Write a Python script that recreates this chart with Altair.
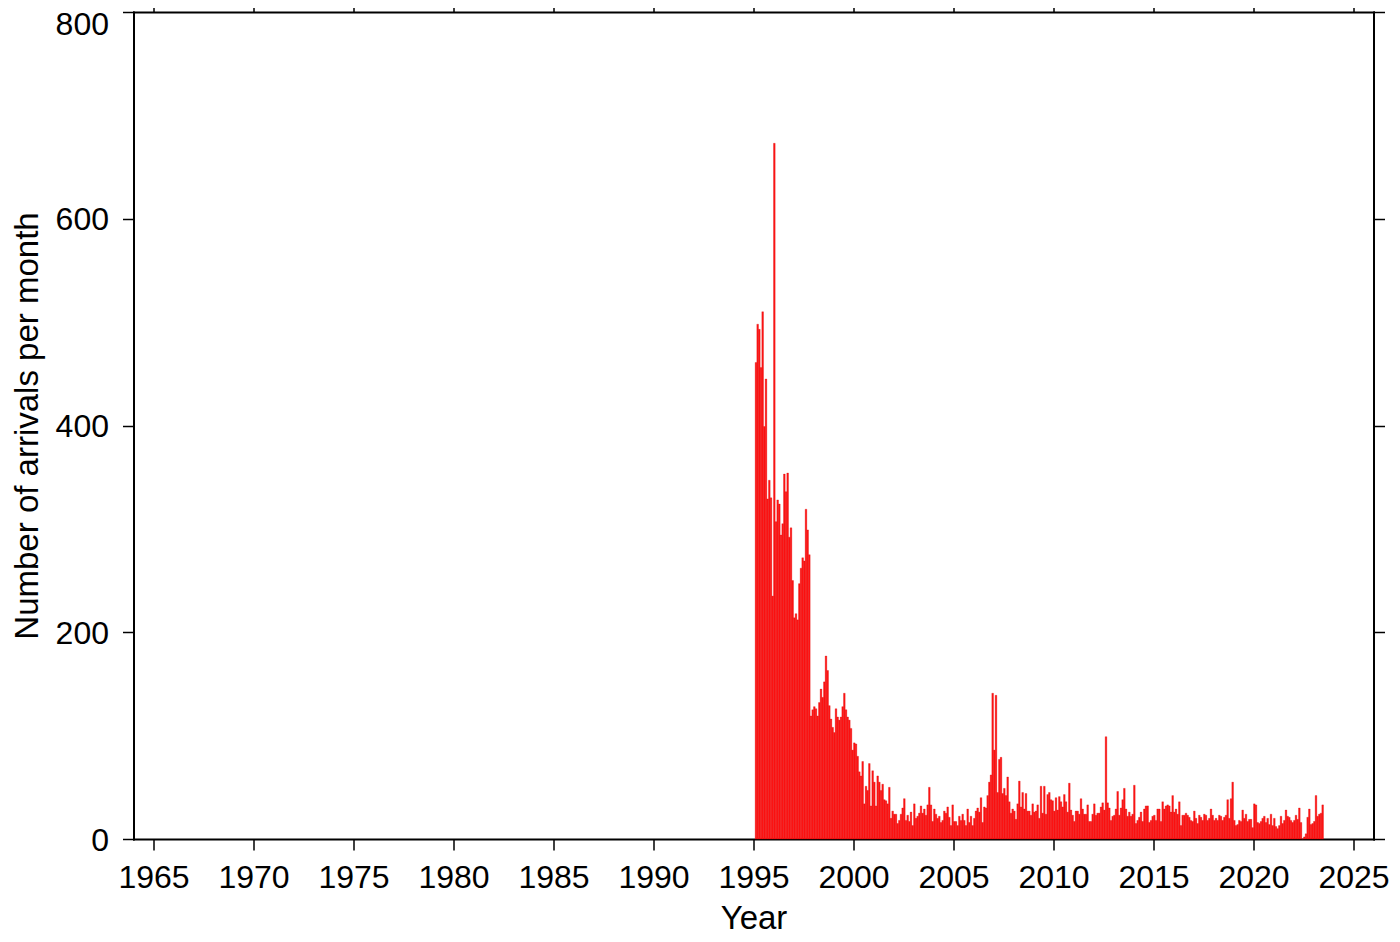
import altair as alt
import pandas as pd

# Monthly arrival counts, first bar = February 1995
counts_1995_1999 = [461, 498, 493, 456, 510, 399, 445, 329, 347, 330, 235, 673,
                    307, 328, 324, 294, 305, 353, 336, 354, 292, 301, 250, 214,
                    218, 212, 247, 262, 272, 269, 319, 299, 275, 119, 125, 128,
                    126, 119, 132, 145, 137, 152, 177, 163, 129, 116, 108, 103,
                    126, 118, 115, 118, 128, 141, 125, 118, 115, 107, 86, 93]
counts_2000_2004 = [92, 80, 65, 61, 75, 34, 51, 47, 73, 32, 66, 55,
                    32, 61, 55, 47, 53, 38, 37, 34, 50, 20, 27, 24,
                    24, 15, 18, 24, 30, 39, 18, 23, 17, 26, 13, 34,
                    20, 22, 25, 32, 25, 29, 23, 33, 50, 33, 17, 29,
                    24, 20, 22, 16, 18, 27, 25, 31, 21, 13, 33, 17]
counts_2005_2009 = [17, 13, 22, 18, 24, 18, 13, 29, 16, 22, 13, 20,
                    27, 30, 26, 40, 16, 31, 30, 42, 55, 62, 141, 86,
                    139, 45, 77, 79, 44, 49, 42, 60, 36, 25, 29, 27,
                    19, 34, 56, 31, 45, 29, 44, 27, 27, 23, 34, 26,
                    27, 33, 20, 51, 25, 51, 24, 43, 45, 38, 37, 27]
counts_2010_2014 = [40, 28, 41, 36, 31, 43, 36, 26, 54, 28, 23, 17,
                    27, 27, 24, 39, 29, 24, 24, 33, 17, 17, 24, 34,
                    23, 25, 25, 31, 35, 28, 99, 35, 30, 18, 22, 23,
                    29, 46, 23, 30, 38, 49, 29, 22, 26, 22, 24, 52,
                    15, 18, 21, 26, 17, 29, 32, 32, 16, 18, 22, 23]
counts_2015_2019 = [18, 29, 29, 17, 36, 29, 32, 33, 32, 26, 42, 26,
                    29, 24, 36, 13, 23, 23, 25, 23, 21, 18, 17, 27,
                    20, 15, 23, 21, 18, 24, 23, 18, 20, 29, 23, 18,
                    20, 18, 23, 22, 18, 21, 23, 38, 20, 39, 55, 18,
                    13, 14, 18, 17, 28, 20, 24, 17, 19, 19, 11, 34]
counts_2020_2023 = [33, 16, 15, 17, 20, 22, 16, 20, 14, 24, 13, 20,
                    12, 10, 13, 22, 15, 18, 28, 22, 21, 18, 16, 18,
                    23, 19, 30, 16, 0, 2, 5, 21, 29, 14, 15, 17,
                    42, 22, 24, 25, 33]

first_year = 1995
first_month = 2  # February
x_ticks = list(range(1965, 2026, 5))
y_ticks = [0, 200, 400, 600, 800]

counts = (counts_1995_1999 + counts_2000_2004 + counts_2005_2009 +
          counts_2010_2014 + counts_2015_2019 + counts_2020_2023)
start = [first_year + (first_month - 1 + i) / 12 for i in range(len(counts))]
df = pd.DataFrame({"start": start,
                   "end": [s + 1 / 12 for s in start],
                   "count": counts})

FONT = "Liberation Sans"
xscale = alt.Scale(domain=[1964, 2026], nice=False, zero=False)
yscale = alt.Scale(domain=[0, 800], nice=False)

common = dict(tickSize=11, tickWidth=1.5, tickColor="black", domainColor="black",
              domainWidth=2, domainCap="square", grid=False, labelFont=FONT,
              labelFontSize=32, labelColor="black", titleFont=FONT,
              titleFontSize=33, titleFontWeight="normal", titleColor="black",
              labelOverlap=False, labelFlush=False)

bars = alt.Chart(df).mark_bar(color="#ff1414", stroke="#d80000", strokeWidth=0.3).encode(
    x=alt.X("start:Q", scale=xscale,
            axis=alt.Axis(orient="bottom", values=x_ticks, format="d", title="Year",
                          labelPadding=12, titleX=620, titleY=89,
                          titleBaseline="alphabetic", titleAnchor="middle", **common)),
    x2="end:Q",
    y=alt.Y("count:Q", scale=yscale,
            axis=alt.Axis(orient="left", values=y_ticks, format="d",
                          title="Number of arrivals per month", labelPadding=14,
                          labelOffset={"condition": {"test": "datum.value == 800", "value": 12},
                                       "value": 1},
                          titleX=-96, titleY=413.5, titleAngle=270,
                          titleBaseline="alphabetic", titleAlign="center", **common)),
    y2=alt.datum(0),
)

frame = alt.Chart(df).mark_point(opacity=0).encode(
    x=alt.X("start:Q", scale=xscale,
            axis=alt.Axis(orient="top", values=x_ticks, labels=False, title="", **common)),
    y=alt.Y("count:Q", scale=yscale,
            axis=alt.Axis(orient="right", values=y_ticks, labels=False, title="", **common)),
)

chart = alt.layer(bars, frame).resolve_axis(x="independent", y="independent").properties(
    width=1240, height=827,
    padding={"left": 125.5, "top": 4, "right": 18, "bottom": 96},
    autosize=alt.AutoSizeParams(type="none"),
).configure_view(strokeWidth=0).configure(background="white")

chart.save("out.html", embed_options={"renderer": "svg", "actions": False})
